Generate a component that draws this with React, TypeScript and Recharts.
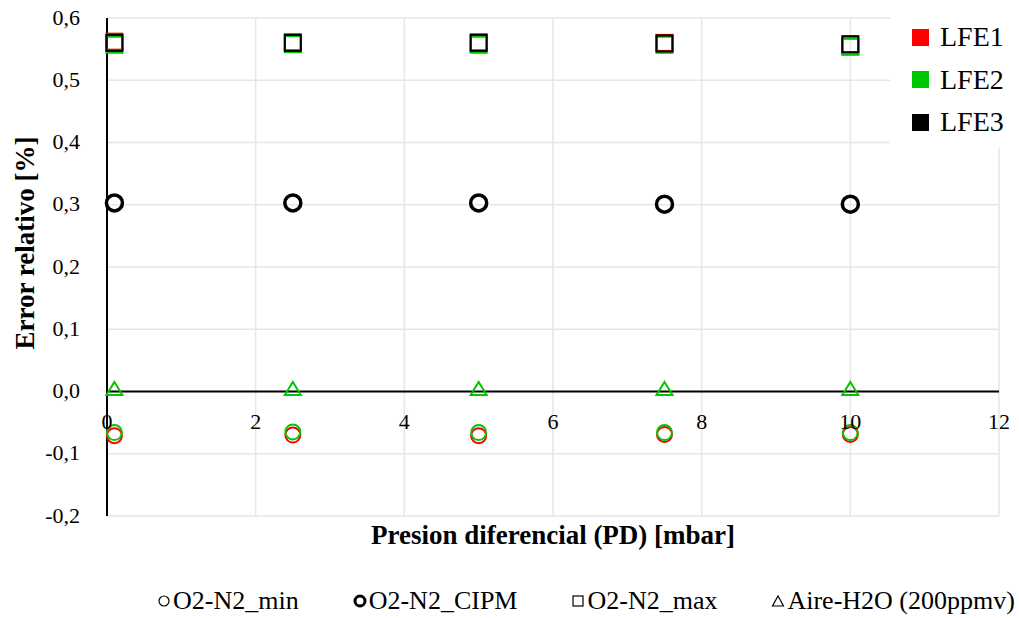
import {
  ScatterChart,
  Scatter,
  XAxis,
  YAxis,
  CartesianGrid,
  ReferenceLine,
} from "recharts";

// presion diferencial [mbar]
const pd = [0.1, 2.5, 5, 7.5, 10];

// error relativo [%]
const minLFE1 = [-0.071, -0.07, -0.071, -0.069, -0.069];
const minLFE2 = [-0.066, -0.065, -0.066, -0.066, -0.066];
const maxLFE1 = [0.562, 0.561, 0.561, 0.56, 0.554];
const maxLFE2 = [0.557, 0.558, 0.557, 0.557, 0.555];
const maxLFE3 = [0.56, 0.56, 0.56, 0.559, 0.558];
const cipmLFE3 = [0.303, 0.303, 0.303, 0.301, 0.301];
const aireLFE2 = [0.004, 0.004, 0.004, 0.004, 0.004];

const xTicks = [0, 2, 4, 6, 8, 10, 12];
const yTicks = [-0.2, -0.1, 0, 0.1, 0.2, 0.3, 0.4, 0.5, 0.6];

const lfeNames = ["LFE1", "LFE2", "LFE3"];
const lfeColors = ["#ff0000", "#00c800", "#000000"];

const gasNames = ["O2-N2_min", "O2-N2_CIPM", "O2-N2_max", "Aire-H2O (200ppmv)"];

const FONT = "'Liberation Serif', 'Times New Roman', Times, serif";

const W = 1019;
const H = 618;
const PLOT_TOP = 18;
const PLOT_BOTTOM = 516;
const Y_MIN = -0.2;
const Y_MAX = 0.6;

type Shape = "circle" | "thick" | "square" | "triangle";

const toPts = (ys: number[]) => pd.map((x, i) => ({ x, y: ys[i] }));

const series: { key: string; color: string; shape: Shape; data: { x: number; y: number }[] }[] = [
  { key: "min1", color: lfeColors[0], shape: "circle", data: toPts(minLFE1) },
  { key: "min2", color: lfeColors[1], shape: "circle", data: toPts(minLFE2) },
  { key: "max1", color: lfeColors[0], shape: "square", data: toPts(maxLFE1) },
  { key: "max2", color: lfeColors[1], shape: "square", data: toPts(maxLFE2) },
  { key: "max3", color: lfeColors[2], shape: "square", data: toPts(maxLFE3) },
  { key: "cipm3", color: lfeColors[2], shape: "thick", data: toPts(cipmLFE3) },
  { key: "aire2", color: lfeColors[1], shape: "triangle", data: toPts(aireLFE2) },
];

function marker(shape: Shape, color: string) {
  return (props: any) => {
    const { cx, cy } = props;
    if (cx == null || cy == null) return null;
    if (shape === "square") {
      return <rect x={cx - 8} y={cy - 8} width={16} height={16} fill="none" stroke={color} strokeWidth={2} />;
    }
    if (shape === "triangle") {
      return (
        <polygon
          points={`${cx},${cy - 7} ${cx + 8},${cy + 6} ${cx - 8},${cy + 6}`}
          fill="none"
          stroke={color}
          strokeWidth={2}
        />
      );
    }
    if (shape === "thick") {
      return <circle cx={cx} cy={cy} r={8} fill="none" stroke={color} strokeWidth={3.5} />;
    }
    return <circle cx={cx} cy={cy} r={7.5} fill="none" stroke={color} strokeWidth={2} />;
  };
}

const zeroShift = ((PLOT_BOTTOM - PLOT_TOP) * (0 - Y_MIN)) / (Y_MAX - Y_MIN);

function XTick({ x, y, payload }: any) {
  return (
    <text x={x} y={y - zeroShift + 22} dy="0.71em" textAnchor="middle" fontSize={22} fontFamily={FONT} fill="#000">
      {payload.value}
    </text>
  );
}

function YTick({ x, y, payload }: any) {
  return (
    <text x={x - 27} y={y} dy="0.3em" textAnchor="end" fontSize={22} fontFamily={FONT} fill="#000">
      {payload.value.toFixed(1).replace(".", ",")}
    </text>
  );
}

function LegendGlyph({ kind }: { kind: number }) {
  return (
    <svg width={14} height={14} style={{ marginRight: 2, verticalAlign: "middle" }}>
      {kind === 0 && <circle cx={7} cy={7} r={5} fill="none" stroke="#000" strokeWidth={1.2} />}
      {kind === 1 && <circle cx={7} cy={7} r={5} fill="none" stroke="#000" strokeWidth={3} />}
      {kind === 2 && <rect x={2} y={2} width={10} height={10} fill="none" stroke="#000" strokeWidth={1.2} />}
      {kind === 3 && <polygon points="7,2 12.5,12 1.5,12" fill="none" stroke="#000" strokeWidth={1.2} />}
    </svg>
  );
}

export default function App() {
  return (
    <div style={{ position: "absolute", left: 0, top: 0, width: W, height: H, background: "#fff" }}>
      <ScatterChart width={W} height={H} margin={{ top: PLOT_TOP, right: 20, bottom: 0, left: 0 }}>
        <CartesianGrid stroke="#e6e6e6" strokeWidth={1.5} />
        <XAxis
          type="number"
          dataKey="x"
          domain={[0, 12]}
          ticks={xTicks}
          height={H - PLOT_BOTTOM}
          axisLine={false}
          tickLine={false}
          tickSize={0}
          tickMargin={0}
          tick={<XTick />}
          label={{
            content: (p: any) => {
              const vb = p.viewBox;
              return (
                <text
                  x={vb.x + vb.width / 2}
                  y={vb.y + 19}
                  dy="0.35em"
                  textAnchor="middle"
                  fontSize={27}
                  fontWeight="bold"
                  fontFamily={FONT}
                  fill="#000"
                >
                  Presion diferencial (PD) [mbar]
                </text>
              );
            },
          }}
        />
        <YAxis
          type="number"
          dataKey="y"
          domain={[Y_MIN, Y_MAX]}
          ticks={yTicks}
          width={107}
          axisLine={{ stroke: "#000", strokeWidth: 2 }}
          tickLine={false}
          tickSize={0}
          tickMargin={0}
          tick={<YTick />}
          label={{
            content: (p: any) => {
              const vb = p.viewBox;
              const cx = 25;
              const cy = vb.y + vb.height / 2 - 24;
              return (
                <text
                  x={cx}
                  y={cy}
                  dy="0.35em"
                  transform={`rotate(-90, ${cx}, ${cy})`}
                  textAnchor="middle"
                  fontSize={27}
                  fontWeight="bold"
                  fontFamily={FONT}
                  fill="#000"
                >
                  Error relativo [%]
                </text>
              );
            },
          }}
        />
        <ReferenceLine y={0} stroke="#000" strokeWidth={2} />
        {series.map((s) => (
          <Scatter
            key={s.key}
            data={s.data}
            shape={marker(s.shape, s.color)}
            isAnimationActive={false}
          />
        ))}
      </ScatterChart>

      {/* LFE legend, top right */}
      <div
        style={{
          position: "absolute",
          left: 890,
          top: 0,
          width: 129,
          height: 148,
          background: "#fff",
          fontFamily: FONT,
          fontSize: 28,
        }}
      >
        {lfeNames.map((n, i) => (
          <div
            key={n}
            style={{ position: "absolute", left: 22, top: 21 + i * 42.5, height: 32, display: "flex", alignItems: "center" }}
          >
            <span style={{ width: 17, height: 17, background: lfeColors[i], display: "inline-block", marginRight: 11 }} />
            <span>{n}</span>
          </div>
        ))}
      </div>

      {/* gas legend, bottom */}
      <div
        style={{
          position: "absolute",
          left: 157,
          top: 584,
          display: "flex",
          fontFamily: FONT,
          fontSize: 26,
          lineHeight: "34px",
          whiteSpace: "nowrap",
        }}
      >
        {gasNames.map((n, i) => (
          <span key={n} style={{ marginRight: i < gasNames.length - 1 ? 54 : 0, display: "flex", alignItems: "center" }}>
            <LegendGlyph kind={i} />
            {n}
          </span>
        ))}
      </div>
    </div>
  );
}
